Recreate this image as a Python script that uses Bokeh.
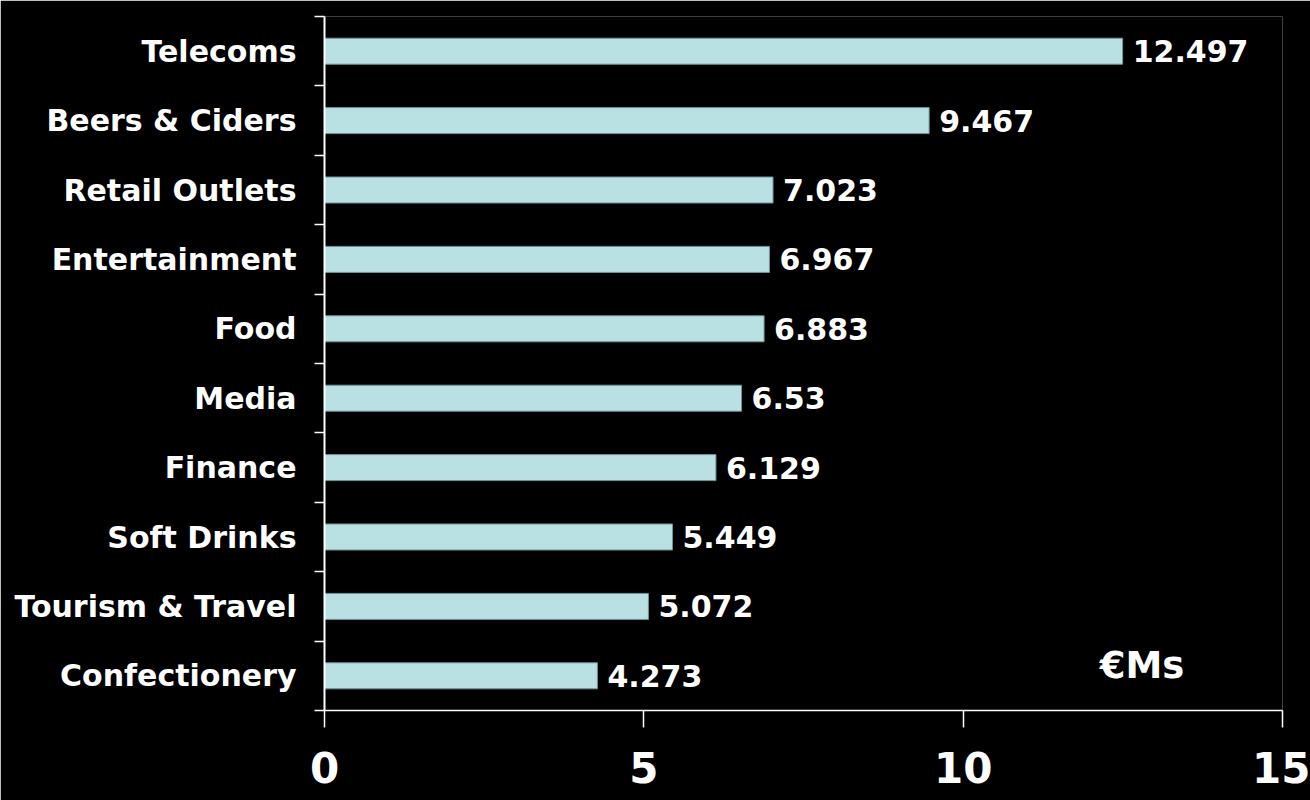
from bokeh.plotting import figure
from bokeh.models import Range1d, FixedTicker, ColumnDataSource, Label, LabelSet
from bokeh.core.properties import value
from bokeh.embed import file_html
from bokeh.resources import INLINE

categories = ["Telecoms", "Beers & Ciders", "Retail Outlets", "Entertainment", "Food",
              "Media", "Finance", "Soft Drinks", "Tourism & Travel", "Confectionery"]
values = [12.497, 9.467, 7.023, 6.967, 6.883, 6.53, 6.129, 5.449, 5.072, 4.273]
x_ticks = [0, 5, 10, 15]
unit_label = "€Ms"

n = len(categories)
ypos = [n - 1 - i for i in range(n)]
labels = [("%g" % v) for v in values]
src = ColumnDataSource(dict(y=ypos, v=values, lab=labels))

FONT = "DejaVu Sans"
p = figure(width=1310, height=800, output_backend="svg", toolbar_location=None,
           x_range=Range1d(0, 15), y_range=Range1d(-0.5, n - 0.5),
           min_border_left=324, min_border_right=28, min_border_top=16, min_border_bottom=90)
p.background_fill_color = "black"
p.border_fill_color = "black"
p.outline_line_color = None
p.grid.grid_line_color = None

p.hbar(y="y", left=0, right="v", height=0.375, source=src,
       fill_color="#b9e0e3", line_color="#6d9396", line_width=1)

p.add_layout(LabelSet(x="v", y="y", text="lab", source=src, x_offset=10, text_align="left",
                      text_baseline="middle", text_color="white", text_font=value(FONT),
                      text_font_size="30px", text_font_style="bold"))

p.add_layout(Label(x=12.8, y=0.15, text=unit_label, text_align="center", text_baseline="middle",
                   text_color="white", text_font=FONT, text_font_size="37px",
                   text_font_style="bold"))

xa = p.xaxis[0]
xa.ticker = FixedTicker(ticks=x_ticks)
xa.axis_line_color = "white"
xa.axis_line_width = 1.5
xa.major_tick_line_color = "white"
xa.major_tick_line_width = 1.5
xa.major_tick_out = 17
xa.major_tick_in = 0
xa.minor_tick_line_color = None
xa.major_label_text_color = "white"
xa.major_label_text_font = FONT
xa.major_label_text_font_size = "42px"
xa.major_label_text_font_style = "bold"
xa.major_label_standoff = 24

ya = p.yaxis[0]
ya.ticker = FixedTicker(ticks=ypos, minor_ticks=[i - 0.5 for i in range(n + 1)])
ya.major_label_overrides = {y: c for y, c in zip(ypos, categories)}
ya.axis_line_color = "white"
ya.axis_line_width = 2
ya.major_tick_line_color = None
ya.major_tick_out = 0
ya.major_tick_in = 0
ya.minor_tick_line_color = "white"
ya.minor_tick_line_width = 1.5
ya.minor_tick_out = 10
ya.minor_tick_in = 0
ya.major_label_text_color = "white"
ya.major_label_text_font = FONT
ya.major_label_text_font_size = "30px"
ya.major_label_text_font_style = "bold"
ya.major_label_standoff = 18

open("out.html", "w").write(file_html(p, INLINE))
